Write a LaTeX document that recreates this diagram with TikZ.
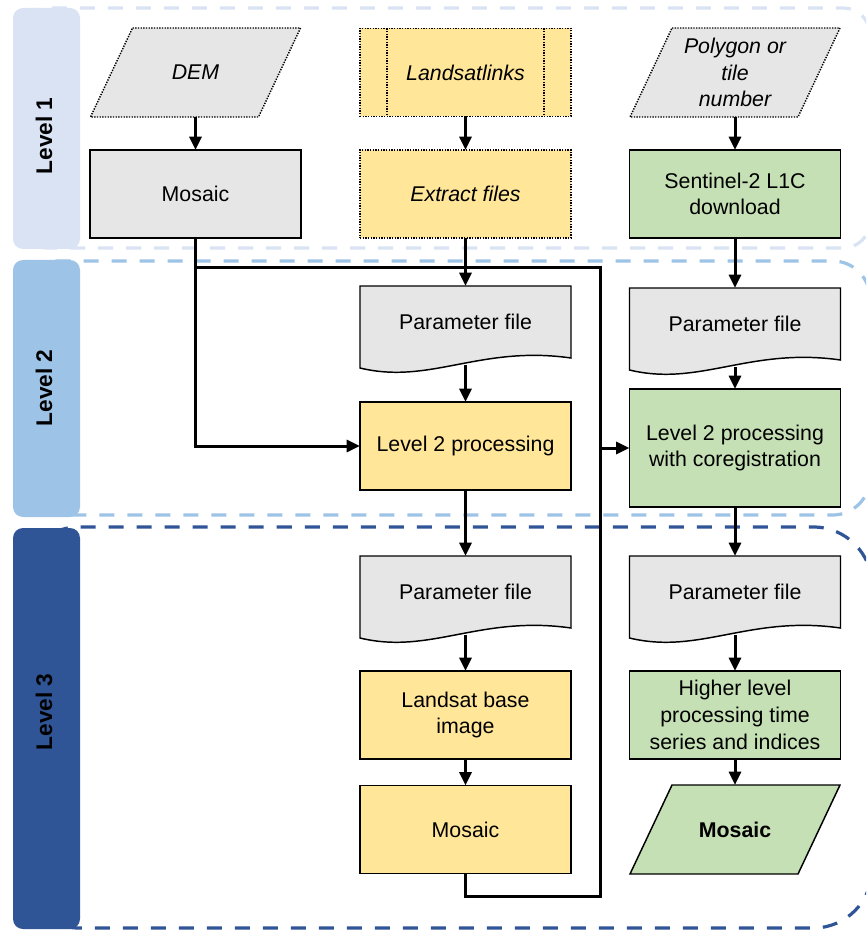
\documentclass[tikz,border=0pt]{standalone}
\usepackage{fontspec}
\setmainfont{Liberation Sans}
\usetikzlibrary{arrows.meta,calc,backgrounds}

\definecolor{lvlone}{HTML}{DAE3F3}
\definecolor{lvltwo}{HTML}{9DC3E6}
\definecolor{lvlthree}{HTML}{2F5597}
\definecolor{boxgray}{HTML}{E7E6E6}
\definecolor{boxyellow}{HTML}{FFE699}
\definecolor{boxgreen}{HTML}{C5E0B4}

\newcommand{\paperfile}[1]{%
  \filldraw[fill=boxgray, line width=1.1pt] (#1.north west) -- (#1.north east)
    -- ($(#1.south east)+(0,-7)$)
    .. controls ($(#1.south east)+(-91,-20)$) and ($(#1.south west)+(70,20)$) .. ($(#1.south west)+(0,3)$)
    -- cycle;}
\newcommand{\slantfile}[2]{%
  \filldraw[line width=1.1pt, #2] ($(#1.north west)+(21,0)$) -- ($(#1.north east)+(21,0)$)
    -- ($(#1.south east)+(-21,0)$) -- ($(#1.south west)+(-21,0)$) -- cycle;}

\begin{document}
\begin{tikzpicture}[x=0.75pt, y=-0.75pt,
    every node/.style={font=\fontsize{16}{20}\selectfont, align=center, outer sep=0pt, inner sep=2pt},
    box/.style={draw, line width=1.1pt, minimum width=158.25pt, minimum height=66pt},
    slanted/.style={minimum width=126pt, minimum height=66.75pt},
    paper/.style={minimum width=158.25pt, minimum height=59.25pt, text depth=5pt},
    dotline/.style={dash pattern=on 1pt off 1pt},
    italic/.style={font=\fontsize{16}{20}\selectfont\itshape},
    arrow/.style={line width=2.25pt, -{Triangle[length=10pt,width=9pt]}},
    link/.style={line width=2.25pt},
    frame/.style={line width=2.4pt, dash pattern=on 11.25pt off 9.75pt},
    tab/.style={rounded corners=7.5pt},
    tablabel/.style={rotate=90, font=\fontsize{17}{20}\selectfont\bfseries}]
    \useasboundingbox (0,0) rectangle (866,930);

    \node[tablabel] (lvl1) at (44,136) {Level 1};
    \node[tablabel] (lvl2) at (44,388) {Level 2};
    \node[tablabel] (lvl3) at (44,712) {Level 3};

    \node[slanted, italic] (dem) at (195.5,72.5) {DEM};
    \node[box, fill=boxgray] (mosdem) at (195.5,194) {Mosaic};

    \node[box, dotline, fill=boxyellow, italic] (links) at (465.5,72.5) {Landsatlinks};
    \node[box, dotline, fill=boxyellow, italic] (extract) at (465.5,194) {Extract files};
    \node[paper] (parls) at (465.5,325.5) {Parameter file};
    \node[box, fill=boxyellow] (procls) at (465.5,446) {Level 2 processing};
    \node[paper] (parbase) at (465.5,595.5) {Parameter file};
    \node[box, fill=boxyellow] (base) at (465.5,715) {Landsat base\\image};
    \node[box, fill=boxyellow] (mosls) at (465.5,829.5) {Mosaic};

    \node[slanted, italic] (poly) at (735,72.5) {Polygon or\\tile\\number};
    \node[box, fill=boxgreen] (s2get) at (735,194) {Sentinel-2 L1C\\download};
    \node[paper] (pars2) at (735,327.5) {Parameter file};
    \node[box, fill=boxgreen, minimum height=88.5pt] (procs2) at (735,448) {Level 2 processing\\with coregistration};
    \node[paper] (parhl) at (735,595.5) {Parameter file};
    \node[box, fill=boxgreen] (higher) at (735,715) {Higher level\\processing time\\series and indices};
    \node[slanted, font=\fontsize{16}{20}\selectfont\bfseries] (mosfinal) at (735,829.5) {Mosaic};

    \draw[line width=1.1pt, dotline] ($(links.north west)+(27,0)$) -- ($(links.south west)+(27,0)$);
    \draw[line width=1.1pt, dotline] ($(links.north east)+(-27,0)$) -- ($(links.south east)+(-27,0)$);

    \coordinate (busup) at (600,268);
    \coordinate (busdown) at (600,896);

    \draw[arrow] (dem) -- (mosdem);
    \draw[arrow] (links) -- (extract);
    \draw[arrow] (extract) -- (parls);
    \draw[arrow] (parls.south) -- (procls);
    \draw[arrow] (procls) -- (parbase);
    \draw[arrow] (parbase.south) -- (base);
    \draw[arrow] (base) -- (mosls);
    \draw[arrow] (poly) -- (s2get);
    \draw[arrow] (s2get) -- (pars2);
    \draw[arrow] (pars2.south) -- (procs2);
    \draw[arrow] (procs2) -- (parhl);
    \draw[arrow] (parhl.south) -- (higher);
    \draw[arrow] (higher) -- (mosfinal);

    \draw[arrow] (mosdem.south) |- (procls.west);
    \draw[link] (mosdem.south |- busup) -- (busup) -- (busdown) -| (mosls.south);
    \draw[arrow] (busup |- procs2.west) -- (procs2.west);

    \begin{scope}[on background layer]
        \begin{scope}
            \clip (0,0) rectangle (866,930);
            \draw[frame, lvlone, rounded corners=20pt] (20,8) rectangle (870,248);
            \draw[frame, lvltwo, rounded corners=28pt] (20,261) rectangle (870,515);
            \draw[frame, lvlthree, rounded corners=44pt] (20,527) rectangle (872,928);
        \end{scope}
        \fill[lvlone, tab] (13,8) rectangle (80,249);
        \fill[lvltwo, tab] (13,260) rectangle (80,517);
        \fill[lvlthree, tab] (13,528) rectangle (80,929);
        \paperfile{parls}
        \paperfile{parbase}
        \paperfile{pars2}
        \paperfile{parhl}
        \slantfile{dem}{fill=boxgray, dotline}
        \slantfile{poly}{fill=boxgray, dotline}
        \slantfile{mosfinal}{fill=boxgreen}
    \end{scope}
\end{tikzpicture}
\end{document}
